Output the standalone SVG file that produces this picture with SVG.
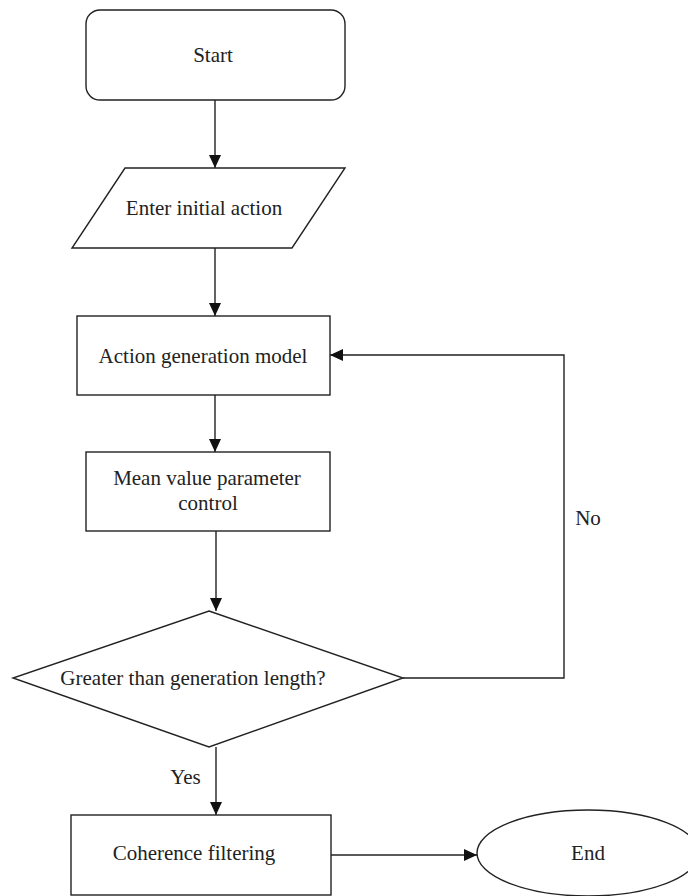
<svg xmlns="http://www.w3.org/2000/svg" width="688" height="896" viewBox="0 0 688 896">
<style>
.s{fill:#fff;stroke:#222;stroke-width:1.4}
.c{fill:none;stroke:#222;stroke-width:1.4}
.t{font-family:"Liberation Serif",serif;font-size:21px;fill:#222;text-anchor:middle}
</style>
<defs>
<marker id="ah" markerUnits="userSpaceOnUse" markerWidth="16" markerHeight="16" viewBox="0 0 16 16" refX="14" refY="8" orient="auto">
<path d="M1,2 L14,8 L1,14 Z" fill="#111"/>
</marker>
</defs>
<rect width="688" height="896" fill="#fff"/>
<g id="connectors">
<line class="c" x1="215" y1="100" x2="215" y2="168" marker-end="url(#ah)"/>
<line class="c" x1="215" y1="248" x2="215" y2="316" marker-end="url(#ah)"/>
<line class="c" x1="215" y1="395" x2="215" y2="452" marker-end="url(#ah)"/>
<line class="c" x1="216" y1="531" x2="216" y2="611" marker-end="url(#ah)"/>
<polyline class="c" points="403,678 564,678 564,355 330,355" marker-end="url(#ah)"/>
<line class="c" x1="216" y1="747" x2="216" y2="815" marker-end="url(#ah)"/>
<line class="c" x1="331" y1="855" x2="477" y2="855" marker-end="url(#ah)"/>
<text class="t" x="588" y="525">No</text>
<text class="t" x="185.5" y="784">Yes</text>
</g>
<g id="start">
<rect class="s" x="86" y="10" width="259" height="90" rx="14"/>
<text class="t" x="213" y="62">Start</text>
</g>
<g id="enter">
<polygon class="s" points="125,168 345,168 292,248 72,248"/>
<text class="t" x="204" y="215">Enter initial action</text>
</g>
<g id="action">
<rect class="s" x="77" y="316" width="253" height="79"/>
<text class="t" x="203" y="363">Action generation model</text>
</g>
<g id="mean">
<rect class="s" x="86" y="452" width="244" height="79"/>
<text class="t" x="207" y="485">Mean value parameter</text>
<text class="t" x="208" y="510">control</text>
</g>
<g id="decision">
<polygon class="s" points="209,611 403,678 209,747 13,678"/>
<text class="t" x="193" y="685">Greater than generation length?</text>
</g>
<g id="coherence">
<rect class="s" x="71" y="815" width="260" height="80"/>
<text class="t" x="194" y="860">Coherence filtering</text>
</g>
<g id="end">
<ellipse class="s" cx="588" cy="853" rx="111" ry="43"/>
<text class="t" x="588" y="860">End</text>
</g>
</svg>
